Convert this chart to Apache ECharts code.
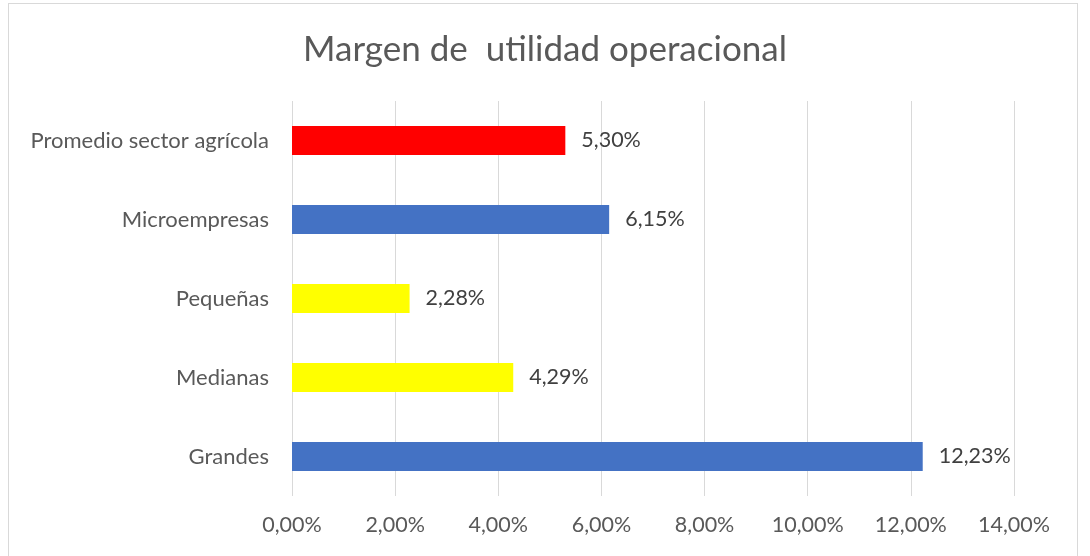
<!DOCTYPE html>
<html>
<head>
<meta charset="utf-8">
<script src="https://cdn.jsdelivr.net/npm/echarts@6/dist/echarts.min.js"></script>
<style>
html,body{margin:0;padding:0;background:#fff;}
#frame{position:absolute;left:8px;top:3px;width:1070px;height:560px;border:1px solid #d9d9d9;box-sizing:border-box;}
#chart{position:absolute;left:0;top:0;width:1090px;height:556px;}
</style>
</head>
<body>
<div id="frame"></div>
<div id="chart"></div>
<script>
// datos (de abajo hacia arriba)
var categorias = ['Grandes', 'Medianas', 'Pequeñas', 'Microempresas', 'Promedio sector agrícola'];
var valores = [12.23, 4.29, 2.28, 6.15, 5.30];
var colores = ['#4472c4', '#ffff00', '#ffff00', '#4472c4', '#ff0000'];
var ticksX = [0, 2, 4, 6, 8, 10, 12, 14];

function pct(v) {
    return v.toFixed(2).replace('.', ',') + '%';
}

var chart = echarts.init(document.getElementById('chart'));
var option = {
    animation: false,
    textStyle: { fontFamily: 'Lato' },
    title: {
        text: 'Margen de  utilidad operacional',
        left: 'center',
        top: 27,
        textStyle: { fontSize: 35, fontWeight: 'normal', color: '#595959', fontFamily: 'Lato' }
    },
    grid: { left: 292, right: 76, top: 101, bottom: 60 },
    xAxis: {
        type: 'value',
        min: ticksX[0],
        max: ticksX[ticksX.length - 1],
        interval: 2,
        axisLine: { show: false },
        axisTick: { show: false },
        splitLine: { lineStyle: { color: '#d9d9d9', width: 1 } },
        axisLabel: { formatter: pct, color: '#595959', fontSize: 21.5, margin: 18 }
    },
    yAxis: {
        type: 'category',
        data: categorias,
        axisLine: { show: false },
        axisTick: { show: false },
        axisLabel: { color: '#595959', fontSize: 22, margin: 23 }
    },
    series: [{
        type: 'bar',
        barWidth: 29,
        data: valores.map(function (v, i) {
            return { value: v, itemStyle: { color: colores[i] } };
        }),
        label: {
            show: true,
            position: 'right',
            distance: 16,
            color: '#404040',
            fontSize: 21.5,
            formatter: function (p) { return pct(p.value); }
        }
    }]
};
chart.setOption(option);
</script>
</body>
</html>
